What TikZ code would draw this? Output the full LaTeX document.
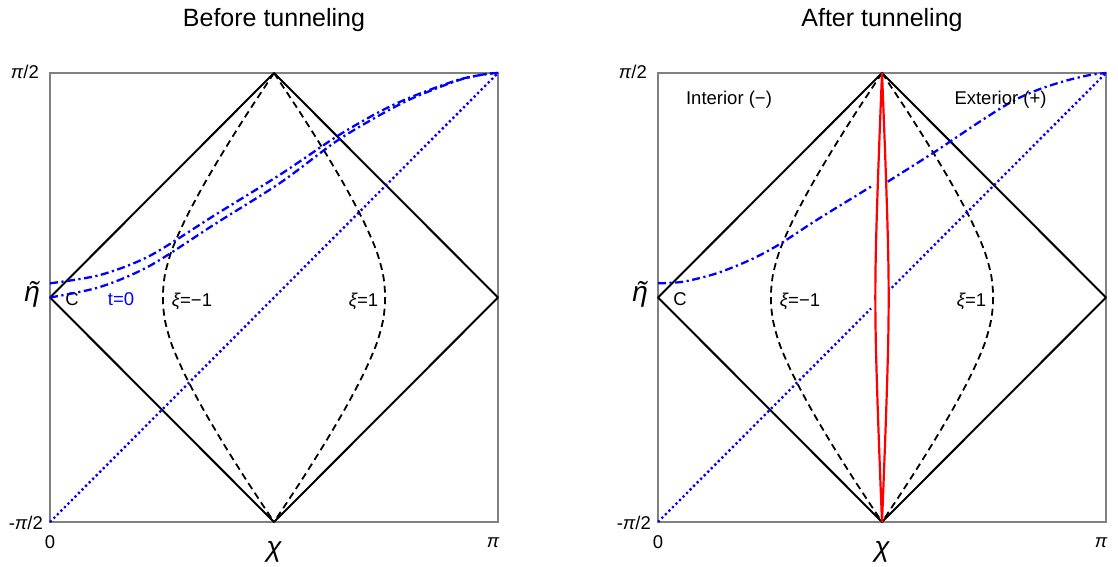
\documentclass[tikz,border=0pt]{standalone}
\usepackage{fontspec}
\setmainfont{Liberation Sans}
\tikzset{
  frame/.style={draw=black!50, line width=1.2pt},
  diam/.style={draw=black, line width=2pt, line join=round},
  xidash/.style={draw=black, line width=1.8pt, dash pattern=on 7pt off 4.5pt},
  bluedot/.style={draw=blue, line width=2.4pt, dash pattern=on 2.2pt off 2.8pt},
  bluedashdot/.style={draw=blue, line width=2.3pt, dash pattern=on 8pt off 3.5pt on 2.2pt off 3.5pt},
  wall/.style={draw=red, line width=2.2pt},
  lbl/.style={font=\fontsize{18.5}{20}\selectfont, inner sep=0pt, anchor=base},
  axlbl/.style={font=\fontsize{28}{30}\selectfont\itshape, inner sep=0pt, anchor=base},
  ttl/.style={font=\fontsize{25}{28}\selectfont, inner sep=0pt, anchor=base},
}
\newcommand\commonpanel[1]{%
  \coordinate (#1BL) at (50,522);
  \coordinate (#1BR) at (498,522);
  \coordinate (#1TR) at (498,73);
  \coordinate (#1TL) at (50,73);
  \coordinate (#1L) at (50,297.5);
  \coordinate (#1T) at (274,73);
  \coordinate (#1R) at (498,297.5);
  \coordinate (#1B) at (274,522);
  \draw[frame] (#1BL) rectangle (#1TR);
  \draw[diam] (#1L) -- (#1T) -- (#1R) -- (#1B) -- cycle;
  \draw[xidash] plot[smooth] coordinates {(274,73) (247.6,113) (224.5,149.7) (202.9,186.3) (185.2,219.7) (172,249.7) (164.9,275) (162.9,297.5) (164.9,320) (172,345.3) (185.2,375.3) (202.9,408.7) (224.5,445.3) (247.6,482) (274,522)};
  \draw[xidash] plot[smooth] coordinates {(274,73) (300.4,113) (323.5,149.7) (345.1,186.3) (362.8,219.7) (376,249.7) (383.1,275) (385.1,297.5) (383.1,320) (376,345.3) (362.8,375.3) (345.1,408.7) (323.5,445.3) (300.4,482) (274,522)};
  \node[lbl, anchor=base east] (#1pih) at (39,79) {{\itshape π}/2};
  \node[lbl, anchor=base east] (#1mpih) at (43,529) {-{\itshape π}/2};
  \node[lbl] (#1zero) at (50,548) {0};
  \node[lbl] (#1pi) at (493,547) {{\itshape π}};
  \node[axlbl] (#1chi) at (274,556) {χ};
  \node[axlbl] (#1eta) at (32,301) {\rlap{\kern0.17em\char"02DC}η};
  \node[lbl] (#1C) at (72,305) {C};
  \node[lbl] (#1xim) at (192,306) {{\itshape ξ}=−1};
  \node[lbl] (#1xip) at (363.5,306) {{\itshape ξ}=1};
}
\begin{document}
\begin{tikzpicture}[x=1pt,y=-1pt]
\useasboundingbox (0,0) rectangle (1118,567);
\node[ttl] (title1) at (274,27) {Before tunneling};
\node[ttl] (title2) at (882,27) {After tunneling};
% ---------------- left panel
\begin{scope}
  \commonpanel{a}
  \draw[bluedot] (aBL) -- (aTR);
  \draw[bluedashdot] plot[smooth] coordinates {(50,283.3) (100,275) (150,255.7) (215,215) (280,174.7) (336.7,136.5) (380,111.5) (413,96.3) (456.7,80.3) (483,74.5) (498,73)};
  \draw[bluedashdot] plot[smooth] coordinates {(50,297.5) (100,287) (150,265.7) (215,224) (280,183) (336.7,141) (380,115) (413,98) (456.7,80.8) (483,74.5) (498,73)};
  \node[lbl, text=blue] (t0) at (121,305) {t=0};
\end{scope}
% ---------------- right panel
\begin{scope}[xshift=608pt]
  \commonpanel{b}
  \coordinate (bd1) at (263,308.5);
  \coordinate (bd2) at (283.7,287.8);
  \draw[bluedot] (bBL) -- (bd1);
  \draw[bluedot] (bd2) -- (bTR);
  \draw[bluedashdot] plot[smooth] coordinates {(50,283.3) (75.3,281.7) (108.7,273.3) (142,260) (170.3,245) (208.7,220) (264.5,185.7)};
  \draw[bluedashdot] plot[smooth] coordinates {(279.7,181.7) (327,151.7) (372,121.5) (405,101) (432,89) (458.7,80.5) (482,75) (498,73)};
  \begin{scope}[shift={(274,0)}, xscale=0.06, shift={(-274,0)}]
    \draw[wall] plot[smooth] coordinates {(274,73) (247.6,113) (224.5,149.7) (202.9,186.3) (185.2,219.7) (172,249.7) (164.9,275) (162.9,297.5) (164.9,320) (172,345.3) (185.2,375.3) (202.9,408.7) (224.5,445.3) (247.6,482) (274,522)};
    \draw[wall] plot[smooth] coordinates {(274,73) (300.4,113) (323.5,149.7) (345.1,186.3) (362.8,219.7) (376,249.7) (383.1,275) (385.1,297.5) (383.1,320) (376,345.3) (362.8,375.3) (345.1,408.7) (323.5,445.3) (300.4,482) (274,522)};
  \end{scope}
  \node[lbl] (interior) at (121,105) {Interior (−)};
  \node[lbl] (exterior) at (392.5,105) {Exterior (+)};
\end{scope}
\end{tikzpicture}
\end{document}
